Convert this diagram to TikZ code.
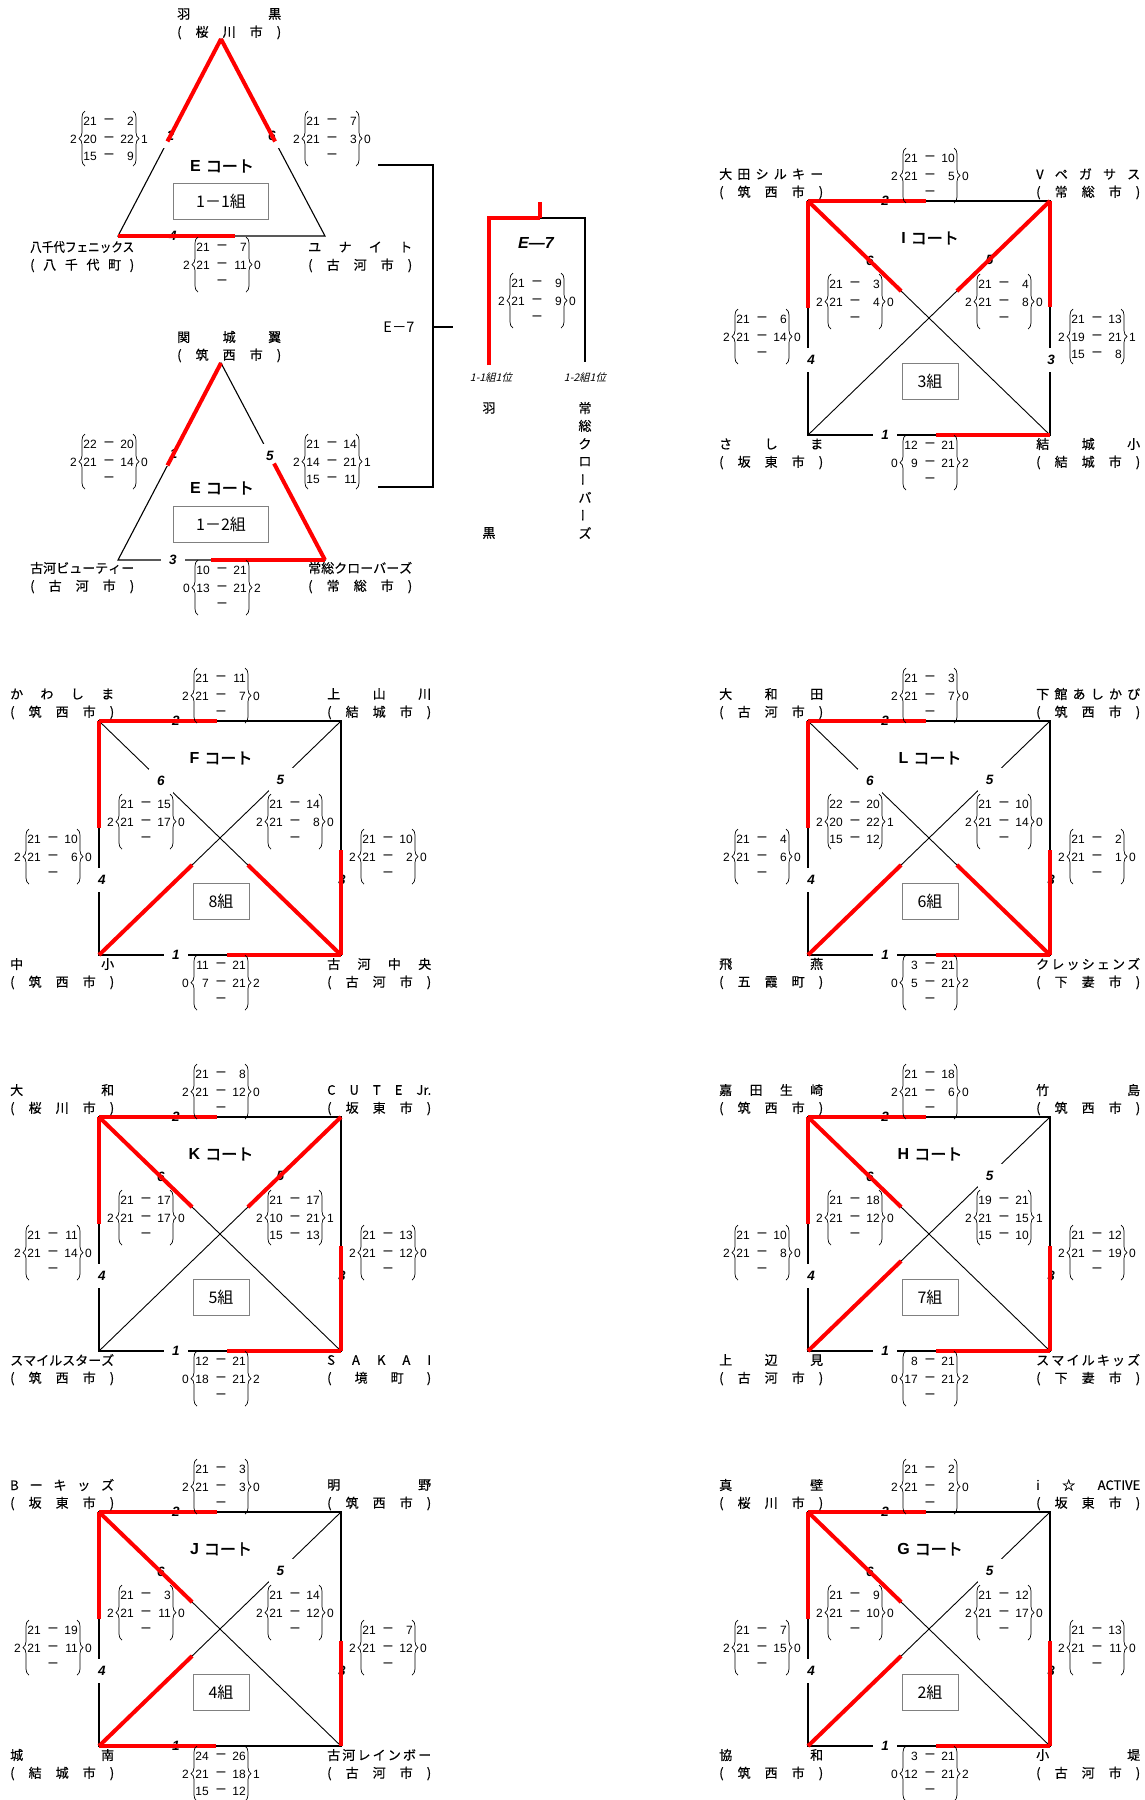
\documentclass[tikz,border=0pt]{standalone}
\usepackage{fontspec}
\usepackage{graphicx}
\setmainfont{Noto Sans CJK JP}
\newfontfamily\numf{Liberation Sans}
\newfontfamily\jpbf[FakeBold=2]{Noto Sans CJK JP}
\newfontfamily\jpit[FakeSlant=0.25]{Noto Sans CJK JP}
\newfontfamily\jpnm[FakeBold=0.4]{Noto Sans CJK JP}
\usetikzlibrary{calc,decorations.pathreplacing}

\newcounter{nc}
\def\spreadA#1{\ifx\relax#1\else#1\expandafter\spreadB\fi}
\def\spreadB#1{\ifx\relax#1\else\hfill#1\expandafter\spreadB\fi}
\newcommand\spreadbox[1]{\sbox0{#1}\ifdim\wd0>104pt \resizebox{104pt}{\height}{#1}\else\makebox[104pt][s]{\spreadA#1\relax}\fi}

\tikzset{
 sqline/.style={line width=2pt, line join=miter},
 diagline/.style={line width=0.9pt},
 triline/.style={line width=1.1pt},
 redl/.style={line width=4pt, color=red},
 brk/.style={line width=2pt},
 brc/.style={decorate, decoration={brace, amplitude=6pt}, line width=0.7pt},
 sc/.style={inner sep=0pt, font=\numf\fontsize{12}{13}\selectfont},
 lbl/.style={fill=white, inner sep=0pt, minimum size=24pt, font=\numf\bfseries\itshape\fontsize{13.5}{14}\selectfont},
 nmtext/.style={inner sep=0pt, font=\jpnm\fontsize{13}{14}\selectfont},
 ttl/.style={inner sep=0pt, font=\fontsize{16}{16}\selectfont},
 grp/.style={draw=black!50, fill=white, line width=0.9pt, inner sep=0pt, font=\fontsize{16}{16}\selectfont},
 small/.style={inner sep=0pt, font=\jpit\fontsize{10.5}{11}\selectfont},
 vt/.style={inner sep=0pt, font=\jpnm\fontsize{13}{14}\selectfont},
}

\newcommand\nm[3]{\stepcounter{nc}\node[nmtext,anchor=west] (nm\arabic{nc}) at (#1,#2) {\spreadbox{#3}};}
\newcommand\nmtwo[4]{\nm{#1}{#2}{#3}\nm{#1}{#2+18.5}{#4}}

\newcommand\scoredash{\fontsize{16}{16}\selectfont –}
\newcommand\score[5]{%
 \stepcounter{nc}%
 \draw[brc] (#1+3,#2+27) -- (#1+3,#2-28);%
 \draw[brc] (#1+51,#2-28) -- (#1+51,#2+27);%
 \node[sc,anchor=east] (sl\arabic{nc}) at (#1-5,#2) {#3};%
 \node[sc,anchor=west] (sr\arabic{nc}) at (#1+59,#2) {#4};%
 \foreach \a/\b [count=\i] in {#5}{%
  \node[sc,anchor=east] (sa\arabic{nc}x\i) at (#1+15,#2+\i*17.5-35) {\a};%
  \node[sc] (sd\arabic{nc}x\i) at (#1+27,#2+\i*17.5-35) {\scoredash};%
  \node[sc,anchor=east] (sb\arabic{nc}x\i) at (#1+52,#2+\i*17.5-35) {\b};%
 }}

\newcommand\courtbase[4]{%
 \coordinate (#3TL) at (#1,#2);
 \coordinate (#3TR) at (#1+242,#2);
 \coordinate (#3BL) at (#1,#2+234);
 \coordinate (#3BR) at (#1+242,#2+234);
 \draw[sqline] (#3TL) -- (#3TR) -- (#3BR) -- (#3BL) -- cycle;
 \draw[diagline] (#3TL) -- (#3BR);
 \draw[diagline] (#3TR) -- (#3BL);
 \node[lbl] (#3m2) at (#1+77,#2) {2};
 \node[lbl] (#3m1) at (#1+77,#2+234) {1};
 \node[lbl] (#3m4) at (#1+3,#2+159) {4};
 \node[lbl] (#3m3) at (#1+243,#2+159) {3};
 \node[lbl] (#3m6) at ($(#3TL)!0.256!(#3BR)$) {6};
 \node[lbl] (#3m5) at ($(#3TR)!0.25!(#3BL)$) {5};
 \node[ttl] (#3title) at (#1+122,#2+37) {{\numf\bfseries #3}\hspace{5pt}{\jpbf コート}};
 \node[grp,minimum width=56pt,minimum height=36pt] (#3grp) at (#1+122,#2+180) {#4組};
}
\newcommand\rTopL[1]{\draw[redl] (#1TL) -- ++(118,0);}
\newcommand\rBotR[1]{\draw[redl] (#1BR) -- ++(-114,0);}
\newcommand\rBotL[1]{\draw[redl] (#1BL) -- ++(117,0);}
\newcommand\rLeftT[1]{\draw[redl] (#1TL) -- ++(0,107);}
\newcommand\rRightT[1]{\draw[redl] (#1TR) -- ++(0,106);}
\newcommand\rRightB[1]{\draw[redl] (#1BR) -- ++(0,-105);}
\newcommand\rDiag[3]{\draw[redl] (#1#2) -- ($(#1#2)!0.385!(#1#3)$);}

\begin{document}
\begin{tikzpicture}[x=1pt,y=-1pt]
\fill[white] (0,0) rectangle (1144,1800);
\useasboundingbox (0,0) rectangle (1144,1800);

% ================= Triangle 1-1 =================
\coordinate (EaA) at (221,39);
\coordinate (EaL) at (118,236);
\coordinate (EaR) at (325,236);
\draw[triline] (EaA) -- (EaL) -- (EaR) -- cycle;
\node[lbl] (Eam2) at ($(EaA)!0.49!(EaL)$) {2};
\node[lbl] (Eam6) at ($(EaA)!0.49!(EaR)$) {6};
\node[lbl] (Eam4) at (173,236) {4};
\draw[redl] (EaA) -- ($(EaA)!0.52!(EaL)$);
\draw[redl] (EaA) -- ($(EaA)!0.52!(EaR)$);
\draw[redl] (EaL) -- (235,236);
\node[ttl] (Eatitle) at (222,166) {{\numf\bfseries E}\hspace{5pt}{\jpbf コート}};
\node[grp,minimum width=95pt,minimum height=36pt] (Eagrp) at (221,201) {1－1組};
\nmtwo{177}{14}{羽黒}{(桜川市)}
\nmtwo{30}{247}{八千代フェニックス}{(八千代町)}
\nmtwo{308}{247}{ユナイト}{(古河市)}
\score{82}{139}{2}{1}{21/2,20/22,15/9}
\score{305}{139}{2}{0}{21/7,21/3,/}
\score{195}{265}{2}{0}{21/7,21/11,/}

% ================= Triangle 1-2 =================
\coordinate (EbA) at (221,363);
\coordinate (EbL) at (118,560);
\coordinate (EbR) at (325,560);
\draw[triline] (EbA) -- (EbL) -- (EbR) -- cycle;
\node[lbl] (Ebm1) at ($(EbA)!0.46!(EbL)$) {1};
\node[lbl] (Ebm5) at ($(EbA)!0.47!(EbR)$) {5};
\node[lbl] (Ebm3) at (173,560) {3};
\draw[redl] (EbA) -- ($(EbA)!0.52!(EbL)$);
\draw[redl] (EbR) -- ($(EbA)!0.51!(EbR)$);
\draw[redl] (EbR) -- (211,560);
\node[ttl] (Ebtitle) at (222,488) {{\numf\bfseries E}\hspace{5pt}{\jpbf コート}};
\node[grp,minimum width=95pt,minimum height=36pt] (Ebgrp) at (221,524) {1－2組};
\nmtwo{177}{337}{関城翼}{(筑西市)}
\nmtwo{30}{568}{古河ビューティー}{(古河市)}
\nmtwo{308}{568}{常総クローバーズ}{(常総市)}
\score{82}{462}{2}{0}{22/20,21/14,/}
\score{305}{462}{2}{1}{21/14,14/21,15/11}
\score{195}{588}{0}{2}{10/21,13/21,/}

% ================= E-7 bracket =================
\coordinate (k1) at (378,165);
\coordinate (k2) at (433,165);
\coordinate (k3) at (433,487);
\coordinate (k4) at (378,487);
\coordinate (k5) at (433,327);
\coordinate (k6) at (453,327);
\draw[brk] (k1) -- (k2) -- (k3) -- (k4);
\draw[brk] (k5) -- (k6);
\node[inner sep=0pt,font=\fontsize{14.5}{15}\selectfont] (e7a) at (399,327) {E－7};

\coordinate (f1) at (489,365);
\coordinate (f2) at (489,218);
\coordinate (f3) at (540,218);
\coordinate (f4) at (585,218);
\coordinate (f5) at (585,362);
\coordinate (f6) at (540,202);
\draw[brk] (f3) -- (f4) -- (f5);
\draw[redl,line join=miter] (f1) -- (f2) -- (f3);
\draw[redl] (f3) -- (f6);
\node[inner sep=0pt,font=\numf\bfseries\itshape\fontsize{16}{16}\selectfont] (e7b) at (536,243) {E—7};
\score{510}{301}{2}{0}{21/9,21/9,/}
\node[small] (q1) at (491,378) {1-1組1位};
\node[small] (q2) at (585,378) {1-2組1位};
\node[vt] (w1) at (489,408) {羽};
\node[vt] (w2) at (489,533) {黒};
\foreach \c [count=\i] in {常,総,ク,ロ,\rotatebox[origin=c]{90}{ー},バ,\rotatebox[origin=c]{90}{ー},ズ}
  \node[vt] (v\i) at (585,{408+(\i-1)*17.86}) {\c};

% ================= I court =================
\def\XX{808}\def\YY{201}
\courtbase{\XX}{\YY}{I}{3}
\rTopL{I}\rLeftT{I}\rRightT{I}\rBotR{I}\rDiag{I}{TL}{BR}\rDiag{I}{TR}{BL}
\nmtwo{\XX-89}{\YY-27}{大田シルキー}{(筑西市)}
\nmtwo{\XX+228}{\YY-27}{Vペガサス}{(常総市)}
\nmtwo{\XX-89}{\YY+243}{さしま}{(坂東市)}
\nmtwo{\XX+228}{\YY+243}{結城小}{(結城市)}
\score{\XX+95}{\YY-25}{2}{0}{21/10,21/5,/}
\score{\XX+95}{\YY+262}{0}{2}{12/21,9/21,/}
\score{\XX-73}{\YY+136}{2}{0}{21/6,21/14,/}
\score{\XX+262}{\YY+136}{2}{1}{21/13,19/21,15/8}
\score{\XX+20}{\YY+101}{2}{0}{21/3,21/4,/}
\score{\XX+169}{\YY+101}{2}{0}{21/4,21/8,/}

% ================= F court =================
\def\XX{99}\def\YY{721}
\courtbase{\XX}{\YY}{F}{8}
\rTopL{F}\rLeftT{F}\rRightB{F}\rBotR{F}\rDiag{F}{BR}{TL}\rDiag{F}{BL}{TR}
\nmtwo{\XX-89}{\YY-27}{かわしま}{(筑西市)}
\nmtwo{\XX+228}{\YY-27}{上山川}{(結城市)}
\nmtwo{\XX-89}{\YY+243}{中小}{(筑西市)}
\nmtwo{\XX+228}{\YY+243}{古河中央}{(古河市)}
\score{\XX+95}{\YY-25}{2}{0}{21/11,21/7,/}
\score{\XX+95}{\YY+262}{0}{2}{11/21,7/21,/}
\score{\XX-73}{\YY+136}{2}{0}{21/10,21/6,/}
\score{\XX+262}{\YY+136}{2}{0}{21/10,21/2,/}
\score{\XX+20}{\YY+101}{2}{0}{21/15,21/17,/}
\score{\XX+169}{\YY+101}{2}{0}{21/14,21/8,/}

% ================= L court =================
\def\XX{808}\def\YY{721}
\courtbase{\XX}{\YY}{L}{6}
\rTopL{L}\rLeftT{L}\rRightB{L}\rBotR{L}\rDiag{L}{BR}{TL}\rDiag{L}{BL}{TR}
\nmtwo{\XX-89}{\YY-27}{大和田}{(古河市)}
\nmtwo{\XX+228}{\YY-27}{下館あしかび}{(筑西市)}
\nmtwo{\XX-89}{\YY+243}{飛燕}{(五霞町)}
\nmtwo{\XX+228}{\YY+243}{クレッシェンズ}{(下妻市)}
\score{\XX+95}{\YY-25}{2}{0}{21/3,21/7,/}
\score{\XX+95}{\YY+262}{0}{2}{3/21,5/21,/}
\score{\XX-73}{\YY+136}{2}{0}{21/4,21/6,/}
\score{\XX+262}{\YY+136}{2}{0}{21/2,21/1,/}
\score{\XX+20}{\YY+101}{2}{1}{22/20,20/22,15/12}
\score{\XX+169}{\YY+101}{2}{0}{21/10,21/14,/}

% ================= K court =================
\def\XX{99}\def\YY{1117}
\courtbase{\XX}{\YY}{K}{5}
\rTopL{K}\rLeftT{K}\rRightB{K}\rBotR{K}\rDiag{K}{TL}{BR}\rDiag{K}{TR}{BL}
\nmtwo{\XX-89}{\YY-27}{大和}{(桜川市)}
\nmtwo{\XX+228}{\YY-27}{CUTE{Jr.}}{(坂東市)}
\nmtwo{\XX-89}{\YY+243}{スマイルスターズ}{(筑西市)}
\nmtwo{\XX+228}{\YY+243}{SAKAI}{(境町)}
\score{\XX+95}{\YY-25}{2}{0}{21/8,21/12,/}
\score{\XX+95}{\YY+262}{0}{2}{12/21,18/21,/}
\score{\XX-73}{\YY+136}{2}{0}{21/11,21/14,/}
\score{\XX+262}{\YY+136}{2}{0}{21/13,21/12,/}
\score{\XX+20}{\YY+101}{2}{0}{21/17,21/17,/}
\score{\XX+169}{\YY+101}{2}{1}{21/17,10/21,15/13}

% ================= H court =================
\def\XX{808}\def\YY{1117}
\courtbase{\XX}{\YY}{H}{7}
\rTopL{H}\rLeftT{H}\rRightB{H}\rBotR{H}\rDiag{H}{TL}{BR}\rDiag{H}{BL}{TR}
\nmtwo{\XX-89}{\YY-27}{嘉田生崎}{(筑西市)}
\nmtwo{\XX+228}{\YY-27}{竹島}{(筑西市)}
\nmtwo{\XX-89}{\YY+243}{上辺見}{(古河市)}
\nmtwo{\XX+228}{\YY+243}{スマイルキッズ}{(下妻市)}
\score{\XX+95}{\YY-25}{2}{0}{21/18,21/6,/}
\score{\XX+95}{\YY+262}{0}{2}{8/21,17/21,/}
\score{\XX-73}{\YY+136}{2}{0}{21/10,21/8,/}
\score{\XX+262}{\YY+136}{2}{0}{21/12,21/19,/}
\score{\XX+20}{\YY+101}{2}{0}{21/18,21/12,/}
\score{\XX+169}{\YY+101}{2}{1}{19/21,21/15,15/10}

% ================= J court =================
\def\XX{99}\def\YY{1512}
\courtbase{\XX}{\YY}{J}{4}
\rTopL{J}\rLeftT{J}\rRightB{J}\rBotL{J}\rDiag{J}{TL}{BR}\rDiag{J}{BL}{TR}
\nmtwo{\XX-89}{\YY-27}{Bーキッズ}{(坂東市)}
\nmtwo{\XX+228}{\YY-27}{明野}{(筑西市)}
\nmtwo{\XX-89}{\YY+243}{城南}{(結城市)}
\nmtwo{\XX+228}{\YY+243}{古河レインボー}{(古河市)}
\score{\XX+95}{\YY-25}{2}{0}{21/3,21/3,/}
\score{\XX+95}{\YY+262}{2}{1}{24/26,21/18,15/12}
\score{\XX-73}{\YY+136}{2}{0}{21/19,21/11,/}
\score{\XX+262}{\YY+136}{2}{0}{21/7,21/12,/}
\score{\XX+20}{\YY+101}{2}{0}{21/3,21/11,/}
\score{\XX+169}{\YY+101}{2}{0}{21/14,21/12,/}

% ================= G court =================
\def\XX{808}\def\YY{1512}
\courtbase{\XX}{\YY}{G}{2}
\rTopL{G}\rLeftT{G}\rRightB{G}\rBotR{G}\rDiag{G}{TL}{BR}\rDiag{G}{BL}{TR}
\nmtwo{\XX-89}{\YY-27}{真壁}{(桜川市)}
\nmtwo{\XX+228}{\YY-27}{i☆{ACTIVE}}{(坂東市)}
\nmtwo{\XX-89}{\YY+243}{協和}{(筑西市)}
\nmtwo{\XX+228}{\YY+243}{小堤}{(古河市)}
\score{\XX+95}{\YY-25}{2}{0}{21/2,21/2,/}
\score{\XX+95}{\YY+262}{0}{2}{3/21,12/21,/}
\score{\XX-73}{\YY+136}{2}{0}{21/7,21/15,/}
\score{\XX+262}{\YY+136}{2}{0}{21/13,21/11,/}
\score{\XX+20}{\YY+101}{2}{0}{21/9,21/10,/}
\score{\XX+169}{\YY+101}{2}{0}{21/12,21/17,/}
\end{tikzpicture}
\end{document}
